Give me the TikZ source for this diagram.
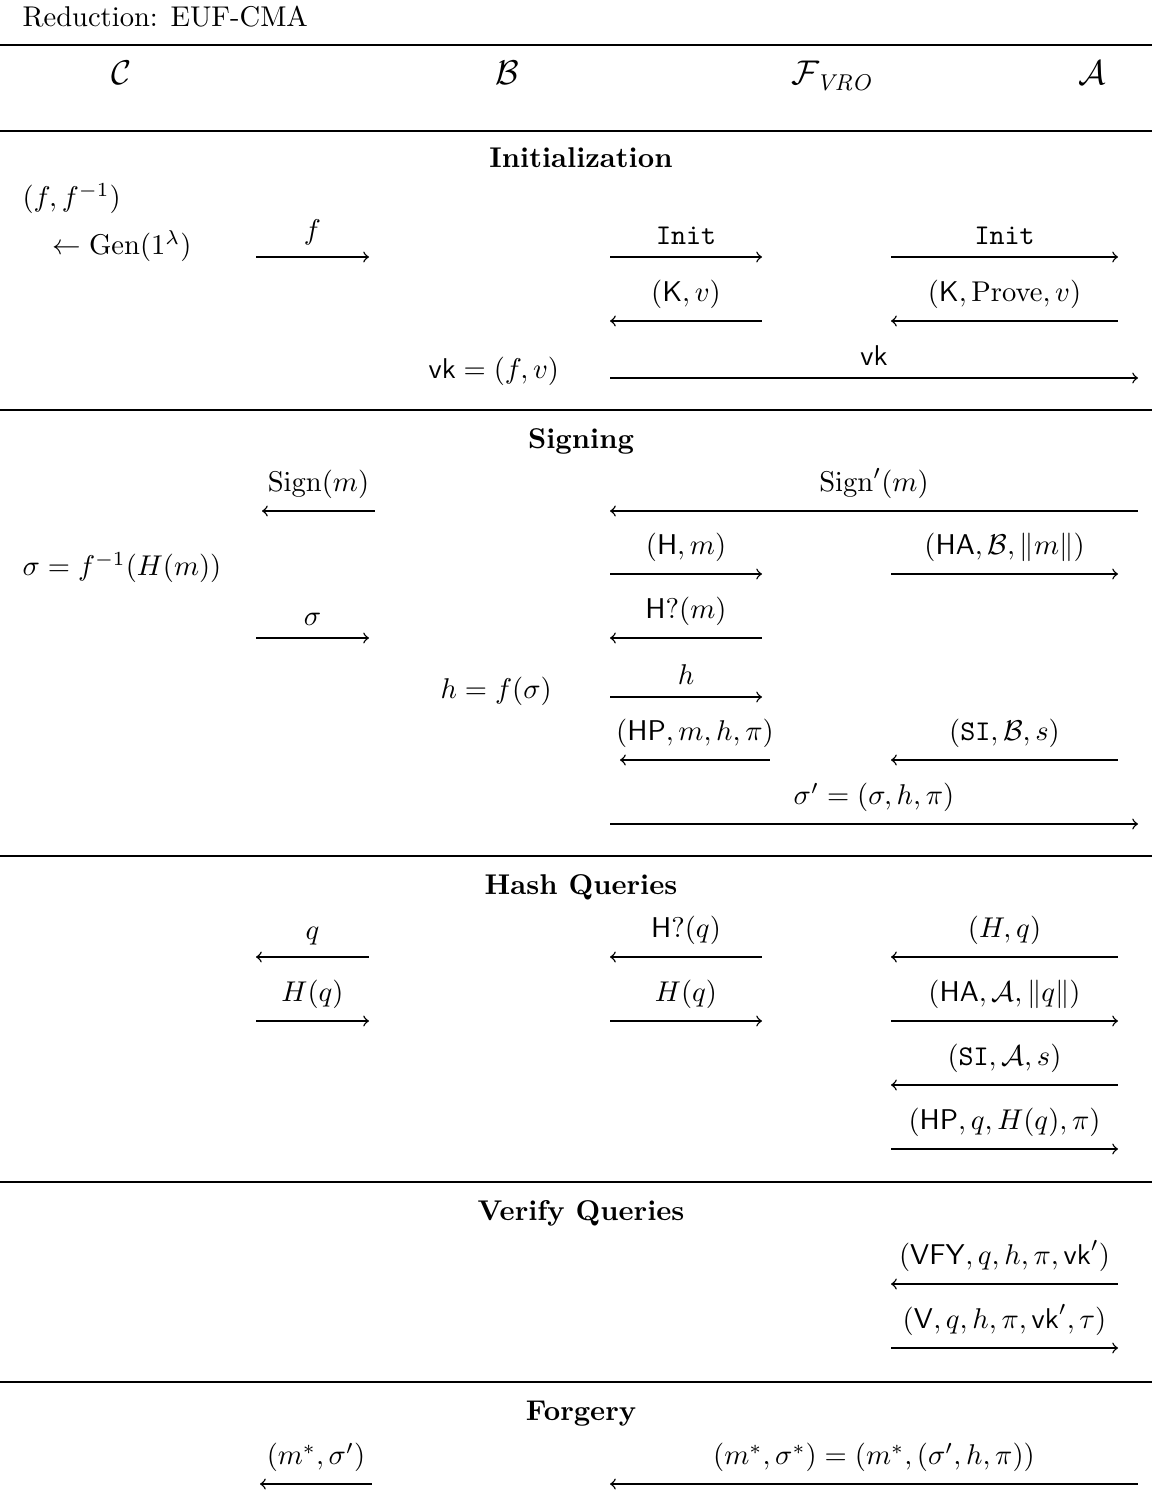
\documentclass[tikz,border=0pt]{standalone}
\usepackage{amsmath,amssymb}
\begin{document}
\begin{tikzpicture}[x=0.35pt,y=-0.35pt,
  msgline/.style={line width=0.5pt},
  msglabel/.style={anchor=south,inner sep=0pt,yshift=4pt},
  sectrule/.style={line width=0.6pt},
  secttitle/.style={anchor=base,font=\bfseries},
  party/.style={anchor=base,font=\large},
  plain/.style={anchor=base west,inner sep=0pt}]
\useasboundingbox (0,0) rectangle (1152,1510);
\newcommand{\MsgRight}[5]{%
  \coordinate (#1s) at (#2,#4);
  \coordinate (#1e) at (#3,#4);
  \draw[msgline,->] (#1s) -- (#1e) node[midway,msglabel] (#1l) {#5};}
\newcommand{\MsgLeft}[5]{%
  \coordinate (#1s) at (#2,#4);
  \coordinate (#1e) at (#3,#4);
  \draw[msgline,<-] (#1s) -- (#1e) node[midway,msglabel] (#1l) {#5};}
% header
\node[plain] (title) at (22,27) {Reduction: EUF-CMA};
\draw[sectrule] (0,45) -- (1152,45);
\node[party] (pC) at (122,85) {$\mathcal{C}$};
\node[party] (pB) at (507,85) {$\mathcal{B}$};
\node[party] (pF) at (833,85) {$\mathcal{F}_{\mathit{VRO}}$};
\node[party] (pA) at (1092,85) {$\mathcal{A}$};
\draw[sectrule] (0,131) -- (1152,131);
% Initialization
\node[secttitle] (tInit) at (581,168) {Initialization};
\node[plain] (gen1) at (22,207) {$(f, f^{-1})$};
\node[plain] (gen2) at (52,255) {$\leftarrow \mathrm{Gen}(1^{\lambda})$};
\MsgRight{f}{256}{369}{257}{$f$}
\MsgRight{inita}{610}{762}{257}{$\mathtt{Init}$}
\MsgRight{initb}{891}{1118}{257}{$\mathtt{Init}$}
\MsgLeft{kv}{610}{762}{321}{$(\mathsf{K}, v)$}
\MsgLeft{kpv}{891}{1118}{321}{$(\mathsf{K}, \mathrm{Prove}, v)$}
\node[plain] (vkdef) at (428,379) {$\mathsf{vk} = (f, v)$};
\MsgRight{vk}{610}{1138}{378}{$\mathsf{vk}$}
\draw[sectrule] (0,410) -- (1152,410);
% Signing
\node[secttitle] (tSign) at (581,449) {Signing};
\MsgLeft{sign}{262}{375}{511}{$\mathrm{Sign}(m)$}
\MsgLeft{signp}{610}{1138}{511}{$\mathrm{Sign}'(m)$}
\node[plain] (sigdef) at (22,576) {$\sigma = f^{-1}(H(m))$};
\MsgRight{hm}{610}{762}{574}{$(\mathsf{H}, m)$}
\MsgRight{ha}{891}{1118}{574}{$(\mathsf{HA}, \mathcal{B}, \lVert m\rVert)$}
\MsgRight{sig}{256}{369}{638}{$\sigma$}
\MsgLeft{hqm}{610}{762}{638}{$\mathsf{H}?(m)$}
\node[plain] (hdef) at (440,698) {$h = f(\sigma)$};
\MsgRight{hh}{610}{762}{697}{$h$}
\MsgLeft{hp}{620}{770}{760}{$(\mathsf{HP}, m, h, \pi)$}
\MsgLeft{si}{891}{1118}{760}{$(\mathtt{SI}, \mathcal{B}, s)$}
\MsgRight{sigp}{610}{1138}{824}{$\sigma' = (\sigma, h, \pi)$}
\draw[sectrule] (0,856) -- (1152,856);
% Hash Queries
\node[secttitle] (tHash) at (581,894) {Hash Queries};
\MsgLeft{q}{256}{369}{957}{$q$}
\MsgLeft{hqq}{610}{762}{957}{$\mathsf{H}?(q)$}
\MsgLeft{Hq}{891}{1118}{957}{$(H, q)$}
\MsgRight{Hqa}{256}{369}{1021}{$H(q)$}
\MsgRight{Hqb}{610}{762}{1021}{$H(q)$}
\MsgRight{haq}{891}{1118}{1021}{$(\mathsf{HA}, \mathcal{A}, \lVert q\rVert)$}
\MsgLeft{siq}{891}{1118}{1085}{$(\mathtt{SI}, \mathcal{A}, s)$}
\MsgRight{hpq}{891}{1118}{1149}{$(\mathsf{HP}, q, H(q), \pi)$}
\draw[sectrule] (0,1182) -- (1152,1182);
% Verify Queries
\node[secttitle] (tVer) at (581,1220) {Verify Queries};
\MsgLeft{vfy}{891}{1118}{1284}{$(\mathsf{VFY}, q, h, \pi, \mathsf{vk}')$}
\MsgRight{vv}{891}{1118}{1348}{$(\mathsf{V}, q, h, \pi, \mathsf{vk}', \tau)$}
\draw[sectrule] (0,1382) -- (1152,1382);
% Forgery
\node[secttitle] (tForge) at (581,1420) {Forgery};
\MsgLeft{fga}{260}{372}{1484}{$(m^*, \sigma')$}
\MsgLeft{fgb}{610}{1138}{1484}{$(m^*, \sigma^*) = (m^*, (\sigma', h, \pi))$}
\end{tikzpicture}
\end{document}
